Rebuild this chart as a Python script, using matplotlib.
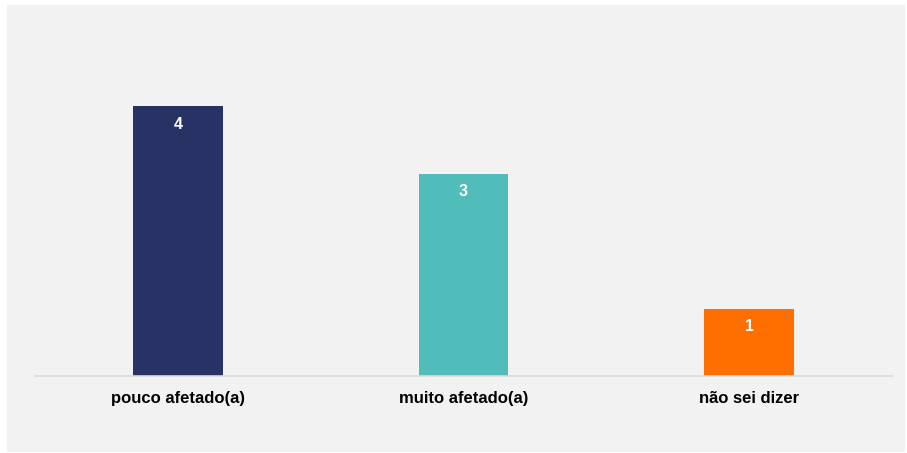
import matplotlib
matplotlib.use("Agg")
import matplotlib.pyplot as plt
from matplotlib.patches import Rectangle

categories = ["pouco afetado(a)", "muito afetado(a)", "não sei dizer"]
values = [4, 3, 1]
colors = ["#283264", "#50BDBA", "#FF6F00"]

plt.rcParams['font.family'] = ['Liberation Sans', 'DejaVu Sans']

W, H = 907, 453
fig = plt.figure(figsize=(W/100, H/100), dpi=100)
fig.patch.set_facecolor("white")
# gray panel
fig.patches.append(Rectangle((7/W, 1 - 452/H), (905-7)/W, (452-5)/H,
                             transform=fig.transFigure, facecolor="#F2F2F2",
                             edgecolor="none", zorder=-1))

ax_left, ax_right = 35, 892
ax_bottom, ax_top = 376, 376 - 4.6*67.5
ax = fig.add_axes([ax_left/W, 1 - ax_bottom/H, (ax_right-ax_left)/W, (ax_bottom-ax_top)/H])
ax.set_zorder(2)
ax.set_facecolor("none")
x = range(len(categories))
bars = ax.bar(x, values, width=0.315, color=colors, zorder=2)
ax.set_xlim(-0.5, len(categories) - 0.5)
ax.set_ylim(0, 4.6)
for b, v in zip(bars, values):
    ax.annotate(str(v), (b.get_x() + b.get_width()/2, v), xytext=(0, -13),
                textcoords="offset points", ha="center", va="center",
                color="white", fontsize=11.5, fontweight="bold")
for s in ["top", "right", "left"]:
    ax.spines[s].set_visible(False)
ax.spines["bottom"].set_color("#D9D9D9")
ax.spines["bottom"].set_linewidth(1.2)
ax.set_yticks([])
ax.set_xticks(list(x))
ax.set_xticklabels(categories, fontsize=12, fontweight="bold", color="black")
ax.tick_params(axis="x", length=0, pad=11)

fig.savefig("out.png", dpi=100, facecolor=fig.get_facecolor())
